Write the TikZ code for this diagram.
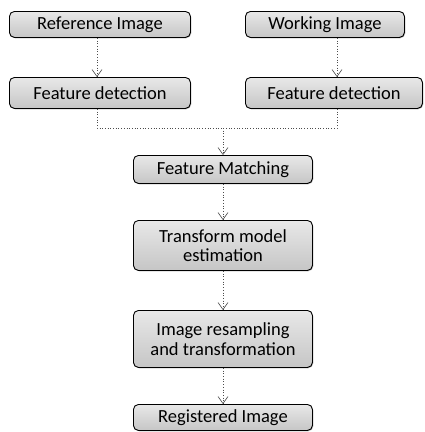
\documentclass[tikz,border=0pt]{standalone}
\usepackage{fontspec}
\setmainfont{Carlito}
\usetikzlibrary{arrows.meta,shadows}
\begin{document}
\begin{tikzpicture}[x=1pt,y=-1pt,
  stepbox/.style={draw=black,line width=0.9pt,rounded corners=5pt,top color=gray!18,bottom color=gray!45,
    align=center,font=\fontsize{18.5}{19.5}\selectfont,inner sep=0pt,anchor=north west,
    drop shadow={shadow xshift=0.8pt,shadow yshift=-0.8pt,fill=gray!70,opacity=0.8}},
  conn/.style={draw=gray!60!black,dotted,line width=0.7pt},
  arr/.style={conn,-{Straight Barb[length=7pt,width=10pt,line width=0.6pt]}}]
\useasboundingbox (0,0) rectangle (425,432);
\node[stepbox,minimum width=181pt,minimum height=26pt] (ref) at (9,11) {Reference Image};
\node[stepbox,minimum width=159pt,minimum height=26pt] (work) at (245,11) {Working Image};
\node[stepbox,minimum width=181pt,minimum height=31pt] (fd1) at (9,77) {Feature detection};
\node[stepbox,minimum width=177pt,minimum height=31pt] (fd2) at (245,77) {Feature detection};
\node[stepbox,minimum width=179pt,minimum height=28pt] (fm) at (133,155) {Feature Matching};
\node[stepbox,minimum width=179pt,minimum height=50pt] (tme) at (133,220) {Transform model\\estimation};
\node[stepbox,minimum width=179pt,minimum height=57pt] (irt) at (133,310) {Image resampling\\and transformation};
\node[stepbox,minimum width=179pt,minimum height=26pt] (reg) at (133,404) {Registered Image};
\coordinate (j) at (223,128);
\draw[arr] (ref.south -| 97,0) -- (fd1.north -| 97,0);
\draw[arr] (work.south -| 337,0) -- (fd2.north -| 337,0);
\draw[conn] (fd1.south -| 97,0) |- (j);
\draw[conn] (fd2.south -| 337,0) |- (j);
\draw[arr] (j) -- (fm.north -| j);
\draw[arr] (fm.south -| j) -- (tme.north -| j);
\draw[arr] (tme.south -| j) -- (irt.north -| j);
\draw[arr] (irt.south -| j) -- (reg.north -| j);
\end{tikzpicture}
\end{document}
